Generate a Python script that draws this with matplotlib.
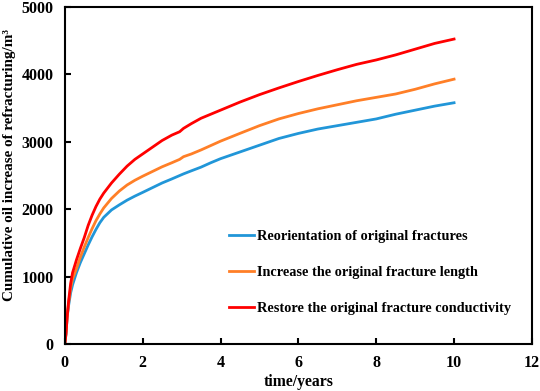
import numpy as np
import matplotlib.pyplot as plt

plt.rcParams['font.family'] = ['Liberation Serif', 'DejaVu Serif']
plt.rcParams['font.weight'] = 'bold'

# time in years
t = [0, 0.03, 0.06, 0.1, 0.15, 0.2, 0.3, 0.4, 0.5, 0.6, 0.7, 0.8, 0.9, 1.0,
     1.2, 1.4, 1.6, 1.8, 2.0, 2.25, 2.5, 2.75, 2.95, 3.05, 3.25, 3.5, 3.75, 4,
     4.5, 5, 5.5, 6, 6.5, 7, 7.5, 8, 8.5, 9, 9.5, 10]

reorient = [0, 150, 400, 580, 760, 880, 1060, 1210, 1340, 1470, 1590, 1700, 1800, 1880,
            1990, 2065, 2135, 2195, 2250, 2320, 2390, 2450, 2500, 2525, 2570, 2625, 2690, 2750,
            2850, 2950, 3050, 3125, 3190, 3240, 3290, 3340, 3410, 3470, 3530, 3580]
length = [0, 150, 400, 620, 830, 970, 1120, 1290, 1440, 1580, 1710, 1830, 1930, 2020,
          2160, 2270, 2360, 2430, 2490, 2560, 2630, 2690, 2740, 2780, 2820, 2880, 2945, 3010,
          3126, 3240, 3340, 3420, 3490, 3550, 3610, 3660, 3710, 3780, 3860, 3930]
conduct = [0, 150, 400, 650, 900, 1060, 1250, 1420, 1580, 1760, 1910, 2040, 2150, 2240,
           2390, 2520, 2640, 2740, 2820, 2920, 3020, 3100, 3150, 3200, 3270, 3350, 3410, 3470,
           3590, 3700, 3800, 3895, 3985, 4070, 4150, 4215, 4290, 4375, 4460, 4525]

fig = plt.figure(figsize=(5.4, 3.91), dpi=100)
ax = fig.add_axes([0.120, 0.120, 0.865, 0.862])

ax.plot(t, reorient, color='#2196d8', lw=2, label='Reorientation of original fractures')
ax.plot(t, length, color='#ff7f27', lw=2, label='Increase the original fracture length')
ax.plot(t, conduct, color='#ff0000', lw=2, label='Restore the original fracture conductivity')

ax.set_xlim(0, 12)
ax.set_ylim(0, 5000)
ax.set_xticks(np.arange(0, 13, 2))
ax.set_yticks(np.arange(0, 5001, 1000))
ax.tick_params(direction='in', labelsize=11.5, width=1.5, length=4)
ax.tick_params(axis='y', pad=8)
ax.tick_params(axis='x', pad=8)
for s in ax.spines.values():
    s.set_linewidth(1.5)

ax.set_xlabel('time/years', fontsize=11.3, fontweight='bold', labelpad=2)
ax.set_ylabel('Cumulative oil increase of refracturing/m³', fontsize=10.9, fontweight='bold')
ax.yaxis.set_label_coords(-0.105, 0.531)

ax.legend(loc='upper left', bbox_to_anchor=(0.323, 0.377), frameon=False, fontsize=10.3,
          handlelength=1.75, handletextpad=0.25, labelspacing=1.6)

fig.savefig('out.png', dpi=100)
